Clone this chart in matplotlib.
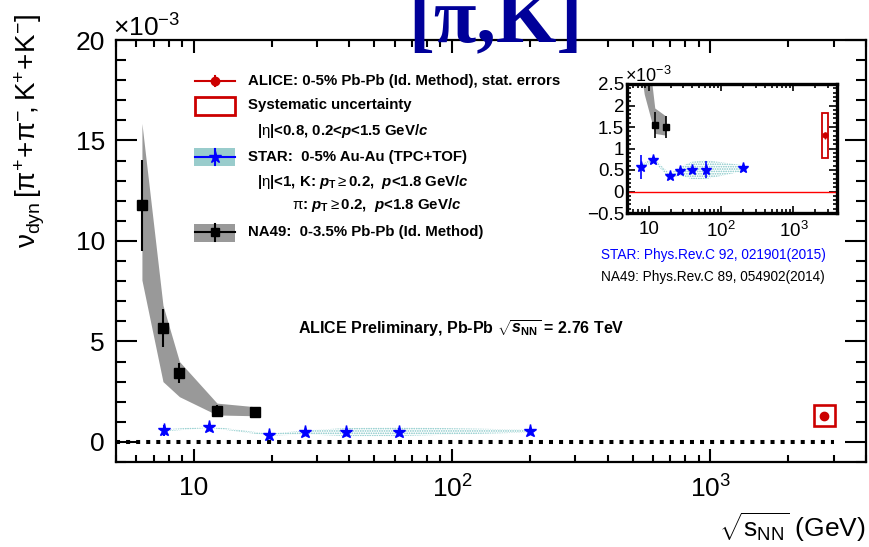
import matplotlib
matplotlib.use('Agg')
import matplotlib.pyplot as plt
import numpy as np
from matplotlib.lines import Line2D
from matplotlib.patches import Rectangle
from matplotlib.ticker import LogLocator, NullFormatter, MultipleLocator, FuncFormatter

plt.rcParams['font.family'] = ['Liberation Sans', 'DejaVu Sans']
plt.rcParams['mathtext.fontset'] = 'custom'
plt.rcParams['mathtext.rm'] = 'Liberation Sans'
plt.rcParams['mathtext.it'] = 'Liberation Sans:italic'
plt.rcParams['mathtext.bf'] = 'Liberation Sans:bold'
plt.rcParams['mathtext.bfit'] = 'Liberation Sans:italic:bold'
plt.rcParams['hatch.linewidth'] = 0.8

# NA49 0-3.5% Pb-Pb (values x 1e-3)
na49_e = [6.3, 7.6, 8.8, 12.3, 17.3]
na49_v = [11.77, 5.66, 3.43, 1.54, 1.50]
na49_stat = [2.25, 0.95, 0.50, 0.30, 0.25]
na49_sys_lo = [8.05, 3.0, 2.25, 1.34, 1.30]
na49_sys_hi = [15.85, 6.8, 4.0, 1.93, 1.75]

# STAR 0-5% Au-Au
star_e = [7.7, 11.5, 19.6, 27, 39, 62.4, 200]
star_v = [0.57, 0.74, 0.36, 0.47, 0.49, 0.51, 0.54]
star_stat = [0.27, 0.07, 0.05, 0.05, 0.05, 0.19, 0.05]
star_sys = [0.05, 0.04, 0.05, 0.10, 0.20, 0.22, 0.07]

# ALICE 0-5% Pb-Pb
alice_e = [2760]
alice_v = [1.31]
alice_stat = [0.08]
alice_sys = [0.52]

zero_line_x = [5, 3000]

RED = '#cc0000'
BLUE = '#0000ff'
GRAY = '#999999'
TEAL = '#7cc4c4'

W, H = 869, 547
fx = lambda x: x / W
fy = lambda y: 1 - y / H


def draw_data(ax, big):
    ms_sq = 7 if big else 5
    ms_star = 9.5 if big else 8
    elw = 1.5 if big else 1.2
    ax.fill_between(na49_e, na49_sys_lo, na49_sys_hi, color=GRAY, lw=0, zorder=1)
    sv = np.array(star_v)
    ss = np.array(star_sys)
    ax.fill_between(star_e, sv - ss, sv + ss, facecolor='none', edgecolor=TEAL,
                    hatch='.......', lw=0, zorder=1)
    ax.errorbar(na49_e, na49_v, yerr=na49_stat, fmt='s', color='black', ms=ms_sq,
                elinewidth=elw, capsize=0, zorder=3)
    ax.errorbar(star_e, star_v, yerr=star_stat, fmt='*', color=BLUE, ms=ms_star,
                elinewidth=elw, capsize=0, zorder=3)
    for e, v, s in zip(alice_e, alice_v, alice_sys):
        ax.add_patch(Rectangle((e / 1.1, v - s), e * 1.1 - e / 1.1, 2 * s, fill=False,
                               ec=RED, lw=1.9 if big else 1.3, zorder=3))
    ax.errorbar(alice_e, alice_v, yerr=alice_stat, fmt='o', color=RED,
                ms=6 if big else 3.5, elinewidth=1, capsize=0, zorder=4)


fig = plt.figure(figsize=(8.69, 5.47), dpi=100)

# main axes
ax = fig.add_axes([fx(116), fy(462), 750 / W, 422 / H])
ax.set_xscale('log')
draw_data(ax, True)
ax.plot(zero_line_x, [0, 0], color='black', lw=2.9, linestyle=(0, (1, 1.5)),
        dash_capstyle='butt', zorder=2)
ax.set_xlim(5, 4000)
ax.set_ylim(-1, 20)
ax.set_xticks([10, 100, 1000])
ax.set_xticklabels(['10', '$10^{2}$', '$10^{3}$'])
ax.xaxis.set_minor_locator(LogLocator(subs=range(2, 10)))
ax.xaxis.set_minor_formatter(NullFormatter())
ax.set_yticks([0, 5, 10, 15, 20])
ax.yaxis.set_minor_locator(MultipleLocator(1))
ax.tick_params(which='both', direction='in', top=True, right=True, width=1.5, labelsize=19)
ax.tick_params(axis='y', which='major', length=15, pad=8)
ax.tick_params(axis='y', which='minor', length=7.5)
ax.tick_params(axis='x', which='major', length=9.5, pad=10)
ax.tick_params(axis='x', which='minor', length=5)
for sp in ax.spines.values():
    sp.set_linewidth(1.6)

# inset
ax2 = fig.add_axes([fx(627), fy(213), 210 / W, 129 / H])
ax2.set_xscale('log')
ax2.axhline(0, color='red', lw=1, zorder=2)
draw_data(ax2, False)
ax2.set_xlim(5, 4000)
ax2.set_ylim(-0.5, 2.5)
ax2.set_xticks([10, 100, 1000])
ax2.set_xticklabels(['10', '$10^{2}$', '$10^{3}$'])
ax2.xaxis.set_minor_locator(LogLocator(subs=range(2, 10)))
ax2.xaxis.set_minor_formatter(NullFormatter())
ax2.yaxis.set_major_locator(MultipleLocator(0.5))
ax2.yaxis.set_minor_locator(MultipleLocator(0.1))
ax2.yaxis.set_major_formatter(FuncFormatter(lambda v, p: ('%g' % v).replace('-', '\u2212')))
ax2.tick_params(which='both', direction='in', top=True, right=True, width=1.2, labelsize=13.5)
ax2.tick_params(axis='y', which='major', length=6, pad=2)
ax2.tick_params(axis='y', which='minor', length=3)
ax2.tick_params(axis='x', which='major', length=5, pad=6)
ax2.tick_params(axis='x', which='minor', length=3)
for sp in ax2.spines.values():
    sp.set_linewidth(2.4)

# axis titles and exponents
fig.text(fx(113), fy(28), r'$\times10^{-3}$', fontsize=19, va='center', ha='left')
fig.text(fx(625), fy(76), r'$\times10^{-3}$', fontsize=13, va='center', ha='left')
fig.text(fx(30), fy(14), r'$\mathrm{\nu}_{\mathrm{dyn}}\,[\mathrm{\pi}^{+}\!+\!\mathrm{\pi}^{-}\!,\mathrm{K}^{+}\!+\!\mathrm{K}^{-}]$',
         rotation=90, fontsize=20, va='top', ha='center')
fig.text(fx(866), fy(527), r'$\sqrt{\mathrm{s}_{\mathrm{NN}}}$ (GeV)', fontsize=19,
         ha='right', va='center')
fig.text(fx(408), fy(41), '[\u03c0,K]', family='Liberation Serif', weight='bold',
         fontsize=56, color='#000099', ha='left', va='baseline', zorder=10)

# legend
tf = fig.transFigure
def seg(x0, x1, y0, y1, **kw):
    fig.add_artist(Line2D([fx(x0), fx(x1)], [fy(y0), fy(y1)], transform=tf, **kw))

seg(195, 235, 81, 81, color=RED, lw=1.5)
seg(215, 215, 76, 86, color=RED, lw=1.5)
fig.add_artist(Line2D([fx(215)], [fy(81)], transform=tf, marker='o', color=RED, ms=6))
fig.add_artist(Rectangle((fx(195), fy(115)), 40 / W, 18 / H, transform=tf, fill=False,
                         ec=RED, lw=2))
fig.add_artist(Rectangle((fx(194), fy(166)), 41 / W, 18 / H, transform=tf,
                         fc='#99cccc', lw=0))
seg(195, 235, 157, 157, color=BLUE, lw=1.5)
seg(215, 215, 149, 165, color=BLUE, lw=1.5)
fig.add_artist(Line2D([fx(215)], [fy(157)], transform=tf, marker='*', color=BLUE, ms=9))
fig.add_artist(Rectangle((fx(194), fy(242)), 41 / W, 18 / H, transform=tf,
                         fc=GRAY, lw=0))
seg(195, 235, 232, 232, color='black', lw=1.5)
seg(215, 215, 224, 241, color='black', lw=1.5)
fig.add_artist(Line2D([fx(215)], [fy(232)], transform=tf, marker='s', color='black', ms=6))

lkw = dict(fontsize=10.8, weight='bold', va='center', ha='left')
fig.text(fx(248), fy(81), 'ALICE: 0-5% Pb-Pb (Id. Method), stat. errors', **lkw)
fig.text(fx(248), fy(105), 'Systematic uncertainty', **lkw)
fig.text(fx(257), fy(131), r'|$\mathrm{\eta}$|<0.8, 0.2<$\mathbfit{p}$<1.5 GeV/$\mathbfit{c}$', **lkw)
fig.text(fx(248), fy(157), 'STAR:  0-5% Au-Au (TPC+TOF)', **lkw)
fig.text(fx(257), fy(182), r'|$\mathrm{\eta}$|<1, K: $\mathbfit{p}_{\mathbf{T}}$$\geq$0.2,  $\mathbfit{p}$<1.8 GeV/$\mathbfit{c}$', **lkw)
fig.text(fx(292), fy(205), r'$\mathrm{\pi}$: $\mathbfit{p}_{\mathbf{T}}$$\geq$0.2,  $\mathbfit{p}$<1.8 GeV/$\mathbfit{c}$', **lkw)
fig.text(fx(248), fy(232), 'NA49:  0-3.5% Pb-Pb (Id. Method)', **lkw)

fig.text(fx(298), fy(329), r'ALICE Preliminary, Pb-Pb $\sqrt{\mathbfit{s}_{\mathbf{NN}}}$ = 2.76 TeV',
         fontsize=11.5, weight='bold', va='center', ha='left')
fig.text(fx(601), fy(255), 'STAR: Phys.Rev.C 92, 021901(2015)', fontsize=9.8, color=BLUE,
         va='center', ha='left')
fig.text(fx(601), fy(277), 'NA49: Phys.Rev.C 89, 054902(2014)', fontsize=9.8, color='black',
         va='center', ha='left')

fig.savefig('out.png', dpi=100)
